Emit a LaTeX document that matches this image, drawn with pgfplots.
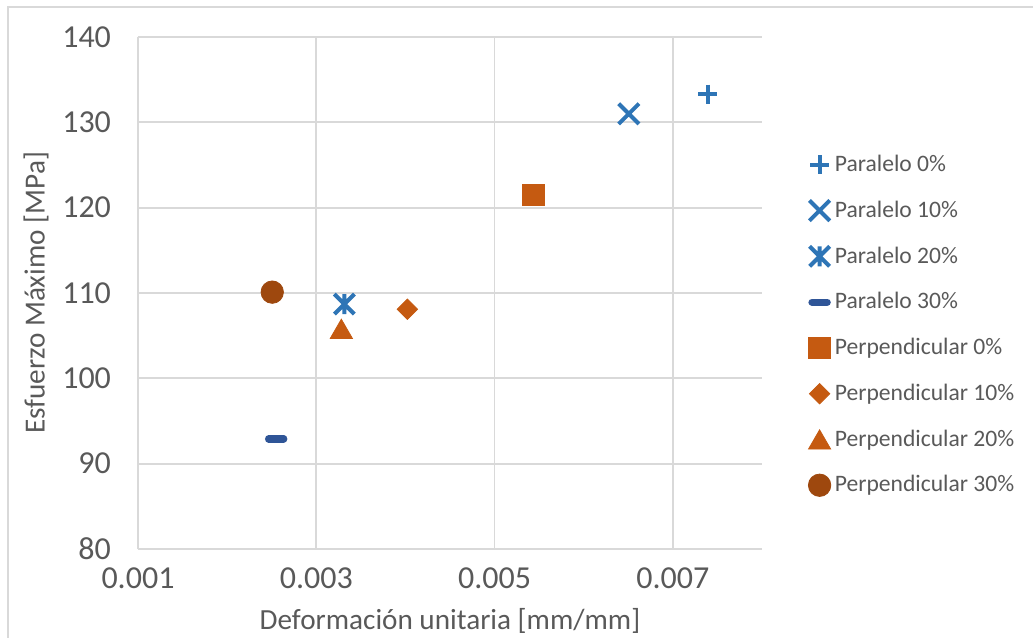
\documentclass[border=0pt]{standalone}
\usepackage{pgfplots}
\pgfplotsset{compat=1.18}
\usepackage{fontspec}
\setmainfont{Carlito}
\usetikzlibrary{plotmarks}

\definecolor{pblue}{HTML}{2E75B6}
\definecolor{pdblue}{HTML}{2F5597}
\definecolor{porange}{HTML}{C55A11}
\definecolor{pbrown}{HTML}{9E480E}
\definecolor{txt}{HTML}{595959}
\definecolor{gridc}{HTML}{D9D9D9}

% Star mark: a cross with a vertical bar through it
\pgfdeclareplotmark{xstar}{%
  \pgfpathmoveto{\pgfqpoint{-\pgfplotmarksize}{-\pgfplotmarksize}}%
  \pgfpathlineto{\pgfqpoint{\pgfplotmarksize}{\pgfplotmarksize}}%
  \pgfpathmoveto{\pgfqpoint{-\pgfplotmarksize}{\pgfplotmarksize}}%
  \pgfpathlineto{\pgfqpoint{\pgfplotmarksize}{-\pgfplotmarksize}}%
  \pgfpathmoveto{\pgfqpoint{0pt}{-\pgfplotmarksize}}%
  \pgfpathlineto{\pgfqpoint{0pt}{\pgfplotmarksize}}%
  \pgfusepathqstroke}

\begin{document}
\begin{tikzpicture}
\useasboundingbox (-69pt,-44pt) rectangle (447.5pt,274.5pt);
\draw[gridc, line width=0.8pt] (-65pt,-50pt) -- (-65pt,271pt) -- (460pt,271pt);
\begin{axis}[
  at={(0pt,0pt)}, anchor=origin,
  scale only axis, width=312pt, height=256pt,
  xmin=0.001, xmax=0.008, ymin=80, ymax=140,
  xtick={0.001,0.003,0.005,0.007},
  ytick={80,90,...,140},
  xticklabels={0.001,0.003,0.005,0.007},
  scaled x ticks=false,
  major tick length=0pt,
  grid=major,
  major grid style={gridc, line width=0.9pt},
  axis line style={gridc, line width=0.9pt},
  axis x line*=bottom, axis y line*=left,
  /pgf/number format/assume math mode=true,
  tick label style={font=\fontsize{16}{19}\selectfont, text=txt},
  xticklabel style={yshift=-6pt},
  yticklabel style={xshift=-10pt},
  xlabel={Deformación unitaria [mm/mm]},
  ylabel={Esfuerzo Máximo [MPa]},
  label style={font=\fontsize{14.6}{17}\selectfont, text=txt},
  xlabel style={yshift=-3pt},
  ylabel style={yshift=0pt},
  legend style={at={(1,0.5)}, anchor=west, xshift=23pt, yshift=-16pt, draw=none, fill=none,
    font=\fontsize{11.8}{14}\selectfont, text=txt, row sep=9.2pt,
    legend cell align=left, inner xsep=0pt},
  clip=false,
]
\addplot[only marks, mark=+, mark size=4.8pt, pblue, line width=2pt]
  coordinates {(0.007393,133.3)};
\addlegendentry{Paralelo 0\%}
\addplot[only marks, mark=x, mark size=7.2pt, pblue, line width=2pt]
  coordinates {(0.006506,131.0)};
\addlegendentry{Paralelo 10\%}
\addplot[only marks, mark=xstar, mark size=5pt, pblue, line width=2pt]
  coordinates {(0.003315,108.7)};
\addlegendentry{Paralelo 20\%}
\addplot[only marks, mark=-, mark size=3.8pt, pdblue, line width=3.6pt, line cap=round]
  coordinates {(0.00255,92.9)};
\addlegendentry{Paralelo 30\%}
\addplot[only marks, mark=square*, mark size=5.4pt, porange]
  coordinates {(0.005438,121.5)};
\addlegendentry{Perpendicular 0\%}
\addplot[only marks, mark=square*, mark size=3.6pt, mark options={rotate=45}, porange]
  coordinates {(0.004022,108.1)};
\addlegendentry{Perpendicular 10\%}
\addplot[only marks, mark=triangle*, mark size=6.4pt, mark options={yshift=-1.6pt}, porange]
  coordinates {(0.003281,105.8)};
\addlegendentry{Perpendicular 20\%}
\addplot[only marks, mark=*, mark size=5.6pt, pbrown]
  coordinates {(0.002506,110.1)};
\addlegendentry{Perpendicular 30\%}
\end{axis}
\end{tikzpicture}
\end{document}
